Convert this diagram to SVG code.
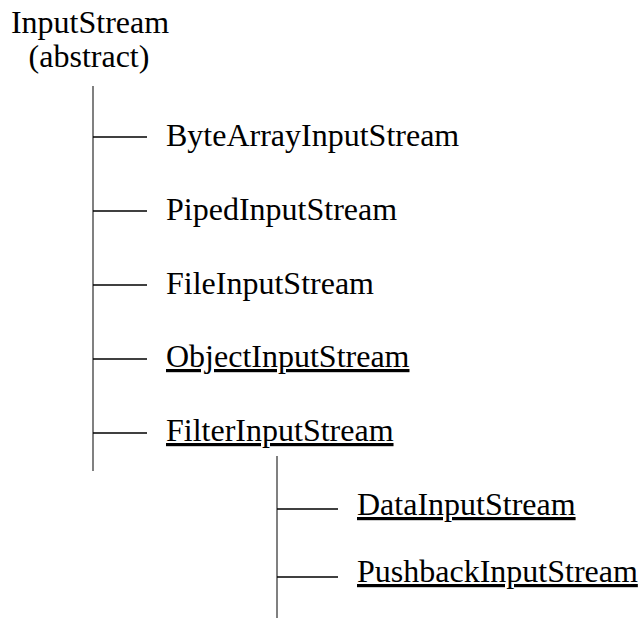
<svg xmlns="http://www.w3.org/2000/svg" width="638" height="619" viewBox="0 0 638 619">
  <style>
    text { font-family: "Liberation Serif", "Times New Roman", serif; font-size: 32px; fill: #000; }
    .u { text-decoration: underline; }
    .trunk { stroke: #808080; stroke-width: 2; fill: none; }
    .branch { stroke: #000; stroke-width: 1.3; fill: none; }
  </style>
  <rect width="638" height="619" fill="#fff"/>

  <!-- tree connectors -->
  <g id="connectors">
    <line class="trunk" x1="93" y1="86" x2="93" y2="471"/>
    <line class="branch" x1="93" y1="137" x2="147" y2="137"/>
    <line class="branch" x1="93" y1="211" x2="147" y2="211"/>
    <line class="branch" x1="93" y1="285" x2="147" y2="285"/>
    <line class="branch" x1="93" y1="359" x2="147" y2="359"/>
    <line class="branch" x1="93" y1="433" x2="147" y2="433"/>
    <line class="trunk" x1="277" y1="456" x2="277" y2="618"/>
    <line class="branch" x1="277" y1="509" x2="338" y2="509"/>
    <line class="branch" x1="277" y1="577" x2="338" y2="577"/>
  </g>

  <!-- class nodes -->
  <g id="inputstream">
    <text x="90" y="33" text-anchor="middle">InputStream</text>
    <text x="89" y="67" text-anchor="middle">(abstract)</text>
  </g>
  <g id="bytearrayinputstream"><text x="166" y="146">ByteArrayInputStream</text></g>
  <g id="pipedinputstream"><text x="166" y="220">PipedInputStream</text></g>
  <g id="fileinputstream"><text x="166" y="294">FileInputStream</text></g>
  <g id="objectinputstream"><text class="u" x="166" y="367">ObjectInputStream</text></g>
  <g id="filterinputstream"><text class="u" x="166" y="441">FilterInputStream</text></g>
  <g id="datainputstream"><text class="u" x="357" y="515">DataInputStream</text></g>
  <g id="pushbackinputstream"><text class="u" x="357" y="582">PushbackInputStream</text></g>
</svg>
